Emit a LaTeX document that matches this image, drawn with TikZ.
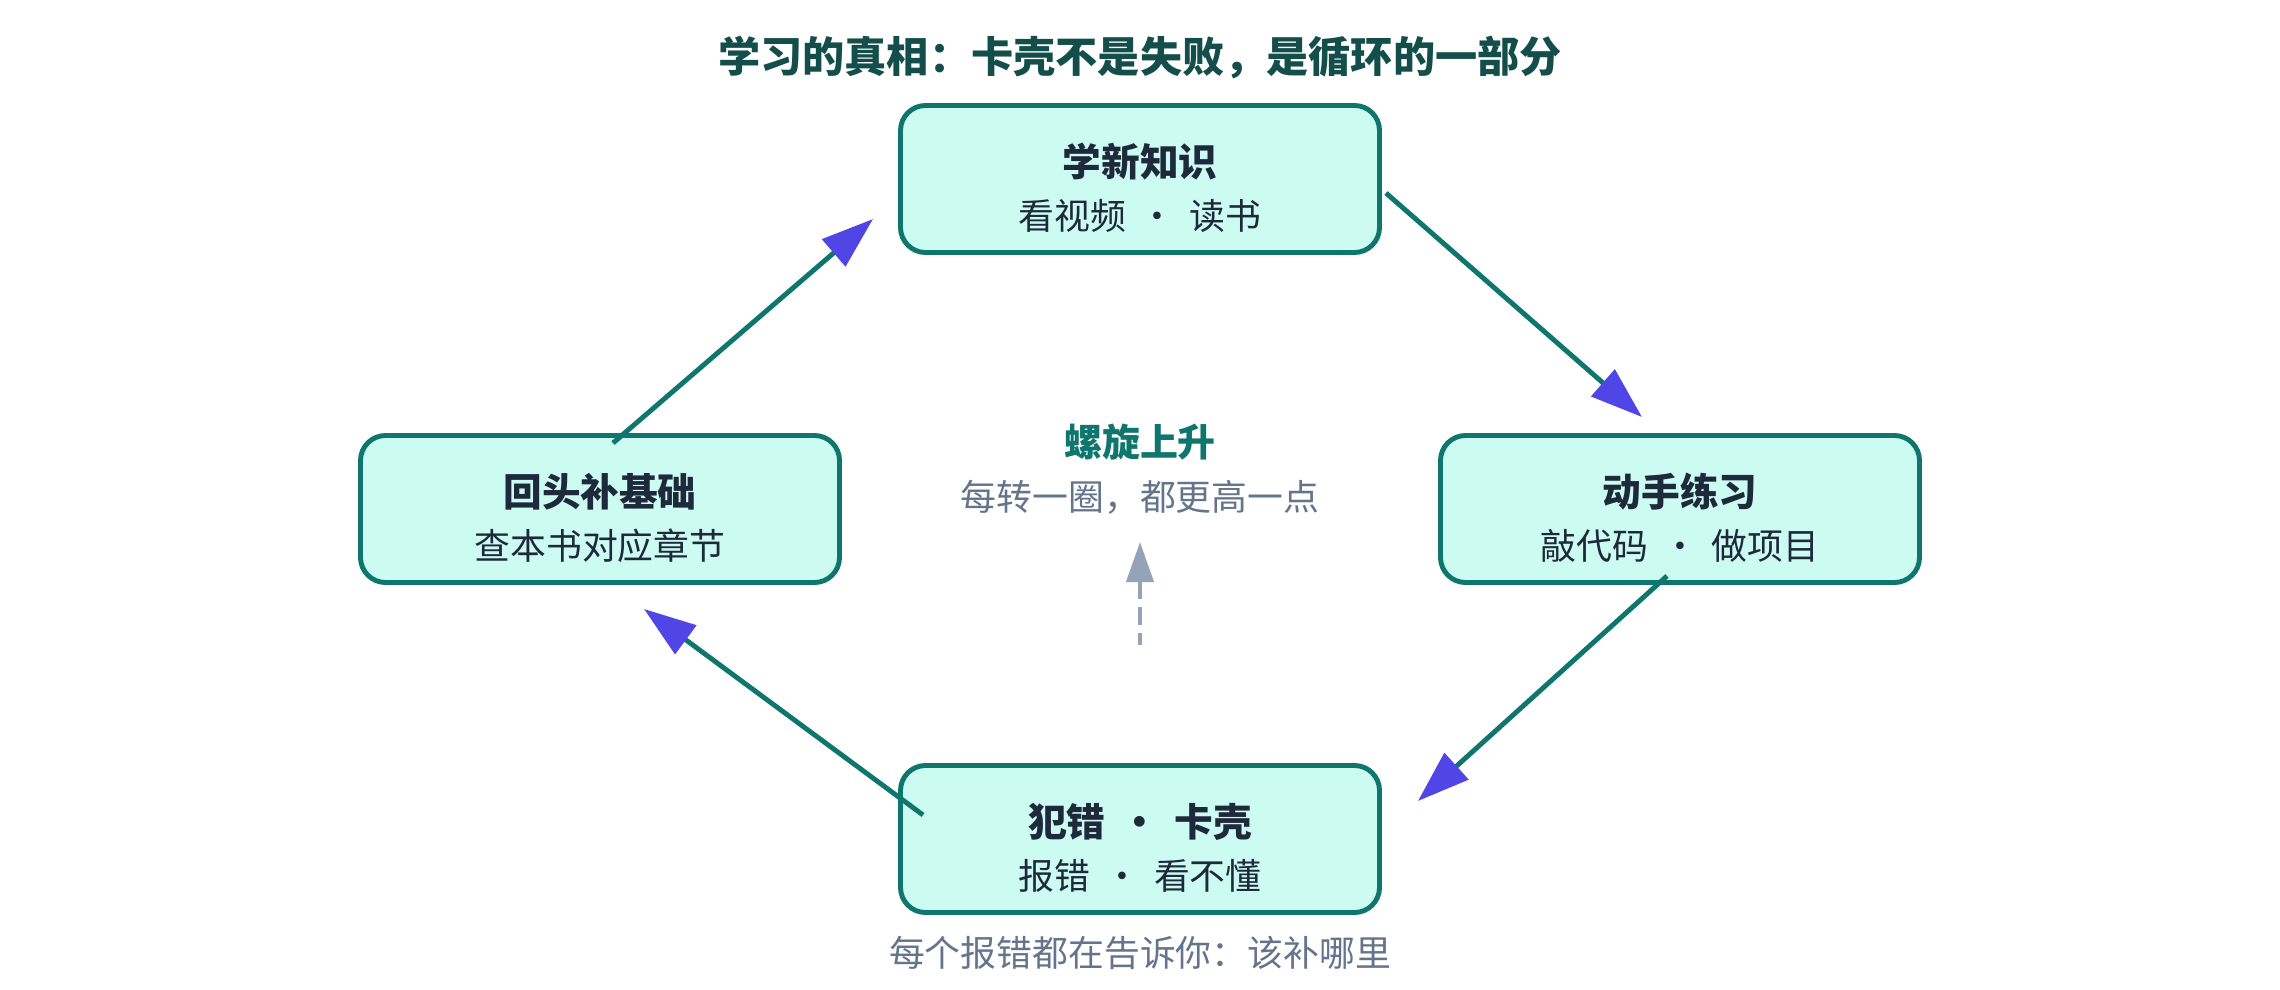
\documentclass[tikz,border=0pt]{standalone}
\usepackage{fontspec}
\setmainfont{Noto Sans CJK SC}
\usetikzlibrary{arrows.meta,positioning}
\definecolor{tealline}{HTML}{0F766E}
\definecolor{tealfill}{HTML}{CCFBF1}
\definecolor{tipblue}{HTML}{4F46E5}
\definecolor{inkdark}{HTML}{1E293B}
\definecolor{titleteal}{HTML}{134E4A}
\definecolor{slategray}{HTML}{64748B}
\definecolor{dashgray}{HTML}{94A3B8}
\newcommand{\stagehead}[1]{{\fontsize{11}{15}\selectfont\bfseries\rule{0pt}{14.5pt}#1}}
\newcommand{\sep}{\,·\,}
\begin{document}
\begin{tikzpicture}[stage/.style = {draw=tealline, line width=1.4pt, fill=tealfill, rounded corners=0.25cm, minimum width=4.79cm, minimum height=1.47cm, align=center, text=inkdark, font=\fontsize{10.2}{15}\selectfont},
                    flow/.style = {draw=tealline, line width=1.4pt, -{Triangle[length=0.52cm, width=0.35cm, color=tipblue]}},
                    rise/.style = {draw=dashgray, line width=1.2pt, dash pattern=on 0.18cm off 0.08cm, {Triangle[length=0.4cm, width=0.27cm]}-},
                    note/.style = {text=slategray, font=\fontsize{10.2}{12}\selectfont},
                    node distance=1cm, on grid]
    \useasboundingbox (0,0) rectangle (22.8,-9.9);
    \node[stage] (learn) at (11.40,-1.79) {\stagehead{学新知识}\\看视频 \sep{} 读书};
    \node[font=\fontsize{12}{14}\selectfont\bfseries, text=titleteal] (title) [above=1.21cm of learn] {学习的真相：卡壳不是失败，是循环的一部分};
    \node[stage] (basics) [below left=3.3cm and 5.4cm of learn] {\stagehead{回头补基础}\\查本书对应章节};
    \node[stage] (practice) [below right=3.3cm and 5.4cm of learn] {\stagehead{动手练习}\\敲代码 \sep{} 做项目};
    \node[stage] (stuck) [below=6.6cm of learn] {\stagehead{犯错 \sep{} 卡壳}\\报错 \sep{} 看不懂};
    \node[note] (hint) [below=1.14cm of stuck] {每个报错都在告诉你：该补哪里};
    \node[font=\fontsize{10.8}{13}\selectfont\bfseries, text=tealline] (spiral) [below=2.63cm of learn] {螺旋上升};
    \node[note] (spiralsub) [below=0.55cm of spiral] {每转一圈，都更高一点};
    \coordinate[below=1.0cm of spiral] (risetop);
    \coordinate[below=2.03cm of spiral] (risebot);
    \draw[flow] ([shift={(0.04,-0.14)}]learn.east) -- ([shift={(-0.38,0.16)}]practice.north);
    \draw[flow] ([shift={(-0.13,0.09)}]practice.south) -- ([shift={(0.36,0.38)}]stuck.east);
    \draw[flow] ([shift={(0.25,0.24)}]stuck.west) -- ([shift={(0.44,-0.24)}]basics.south);
    \draw[flow] ([shift={(0.13,-0.10)}]basics.north) -- ([shift={(-0.25,-0.40)}]learn.west);
    \draw[rise] (risetop) -- (risebot);
\end{tikzpicture}
\end{document}
